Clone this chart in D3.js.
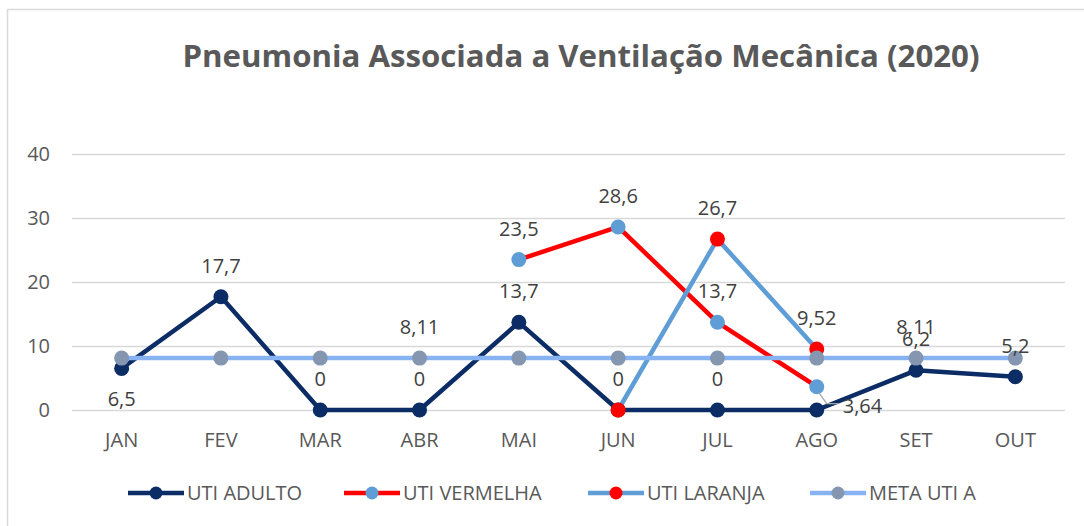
<!DOCTYPE html>
<html>
<head>
<meta charset="utf-8">
<script src="https://cdn.jsdelivr.net/npm/d3@7"></script>
<style>
  body { margin: 0; background: #fff; }
  svg text { font-family: "Open Sans", "Noto Sans", sans-serif; }
</style>
</head>
<body>
<div id="chart"></div>
<script>
// chart values
const months = ["JAN", "FEV", "MAR", "ABR", "MAI", "JUN", "JUL", "AGO", "SET", "OUT"];
const utiAdulto = [6.5, 17.7, 0, 0, 13.7, 0, 0, 0, 6.2, 5.2];
const utiVermelha = [null, null, null, null, 23.5, 28.6, 13.7, 3.64, null, null];
const utiLaranja = [null, null, null, null, null, 0, 26.7, 9.52, null, null];
const metaUtiA = [8.11, 8.11, 8.11, 8.11, 8.11, 8.11, 8.11, 8.11, 8.11, 8.11];
const yTicks = [0, 10, 20, 30, 40];

// which points carry a data label, and where (t = above, b = below, r = right with leader)
const adultoLabels = ["b", "t", "t", "t", "t", "t", "t", null, "t", "t"];
const vermelhaLabels = [null, null, null, null, "t", "t", "t", "r", null, null];
const laranjaLabels = [null, null, null, null, null, null, "t", "t", null, null];
const metaLabels = [null, null, null, "t", null, null, null, null, "t", null];

const series = [
    { name: "UTI ADULTO", values: utiAdulto, labels: adultoLabels, line: "#0b2c65", marker: "#0b2c65" },
    { name: "UTI VERMELHA", values: utiVermelha, labels: vermelhaLabels, line: "#ff0000", marker: "#5f9dd6" },
    { name: "UTI LARANJA", values: utiLaranja, labels: laranjaLabels, line: "#5f9dd6", marker: "#ff0000" },
    { name: "META UTI A", values: metaUtiA, labels: metaLabels, line: "#87b3f2", marker: "#8496b0" }
];

const W = 1084, H = 526;
const plot = { left: 72, right: 1065, top: 154, bottom: 410 };

const svg = d3.select("#chart").append("svg")
    .attr("width", W)
    .attr("height", H);

// chart frame
svg.append("rect")
    .attr("x", 7.5).attr("y", 9.5)
    .attr("width", W + 10).attr("height", H + 10)
    .attr("fill", "#fff")
    .attr("stroke", "#d9d9d9")
    .attr("stroke-width", 1.5);

svg.append("text")
    .attr("x", 581)
    .attr("y", 67)
    .attr("text-anchor", "middle")
    .attr("font-size", 30)
    .attr("font-weight", "bold")
    .attr("fill", "#595959")
    .attr("textLength", 797)
    .attr("lengthAdjust", "spacingAndGlyphs")
    .text("Pneumonia Associada a Ventilação Mecânica (2020)");

const x = d3.scaleBand()
    .domain(months)
    .range([plot.left, plot.right]);

const y = d3.scaleLinear()
    .domain([0, 40])
    .range([plot.bottom, plot.top]);

const cx = d => x(d) + x.bandwidth() / 2;

// gridlines + y ticks
const yAxis = d3.axisLeft(y)
    .tickValues(yTicks)
    .tickSize(-(plot.right - plot.left))
    .tickPadding(22)
    .tickFormat(d3.format("d"));

svg.append("g")
    .attr("transform", "translate(" + plot.left + ",0)")
    .call(yAxis)
    .call(g => g.select(".domain").remove())
    .call(g => g.selectAll(".tick line").attr("stroke", "#d9d9d9").attr("stroke-width", 1.3))
    .call(g => g.selectAll(".tick text")
        .attr("fill", "#595959")
        .attr("font-size", 20)
        .attr("font-family", "'Open Sans', sans-serif"));

// x labels
const xAxis = d3.axisBottom(x).tickSize(0).tickPadding(23);
svg.append("g")
    .attr("transform", "translate(0," + plot.bottom + ")")
    .call(xAxis)
    .call(g => g.select(".domain").remove())
    .call(g => g.selectAll(".tick text")
        .attr("fill", "#595959")
        .attr("font-size", 20)
        .attr("font-family", "'Open Sans', sans-serif"));

const line = d3.line()
    .defined(d => d.v !== null)
    .x(d => cx(d.m))
    .y(d => y(d.v));

const fmt = v => String(v).replace(".", ",");

series.forEach(s => {
    const pts = months.map((m, i) => ({ m: m, v: s.values[i], lab: s.labels[i] }));
    const g = svg.append("g");
    g.append("path")
        .datum(pts)
        .attr("fill", "none")
        .attr("stroke", s.line)
        .attr("stroke-width", 4.5)
        .attr("stroke-linejoin", "round")
        .attr("d", line);
    g.selectAll("circle")
        .data(pts.filter(d => d.v !== null))
        .join("circle")
        .attr("cx", d => cx(d.m))
        .attr("cy", d => y(d.v))
        .attr("r", 7.5)
        .attr("fill", s.marker);
    s.pts = pts;
});

// data labels on top
const labelLayer = svg.append("g")
    .attr("font-size", 20)
    .attr("fill", "#404040");

series.forEach(s => {
    s.pts.filter(d => d.v !== null && d.lab).forEach(d => {
        const px = cx(d.m), py = y(d.v);
        if (d.lab === "t") {
            labelLayer.append("text")
                .attr("x", px).attr("y", py - 24)
                .attr("text-anchor", "middle")
                .text(fmt(d.v));
        } else if (d.lab === "b") {
            labelLayer.append("text")
                .attr("x", px).attr("y", py + 38)
                .attr("text-anchor", "middle")
                .text(fmt(d.v));
        } else {
            // leader line for the label pushed to the right
            labelLayer.append("path")
                .attr("d", "M" + (px + 2) + "," + (py + 6) + "L" + (px + 10) + "," + (py + 17) + "H" + (px + 22))
                .attr("fill", "none")
                .attr("stroke", "#a6a6a6")
                .attr("stroke-width", 1.2);
            labelLayer.append("text")
                .attr("x", px + 26).attr("y", py + 26)
                .text(fmt(d.v));
        }
    });
});

// legend
const legend = svg.append("g")
    .attr("transform", "translate(0,493)");
const legendX = [128, 344, 588, 810];
series.forEach((s, i) => {
    const lg = legend.append("g").attr("transform", "translate(" + legendX[i] + ",0)");
    lg.append("line")
        .attr("x1", 0).attr("x2", 56)
        .attr("y1", 0).attr("y2", 0)
        .attr("stroke", s.line)
        .attr("stroke-width", 4.5);
    lg.append("circle")
        .attr("cx", 28).attr("cy", 0)
        .attr("r", 6.5)
        .attr("fill", s.marker);
    lg.append("text")
        .attr("x", 59).attr("y", 7)
        .attr("font-size", 20)
        .attr("fill", "#595959")
        .text(s.name);
});
</script>
</body>
</html>
